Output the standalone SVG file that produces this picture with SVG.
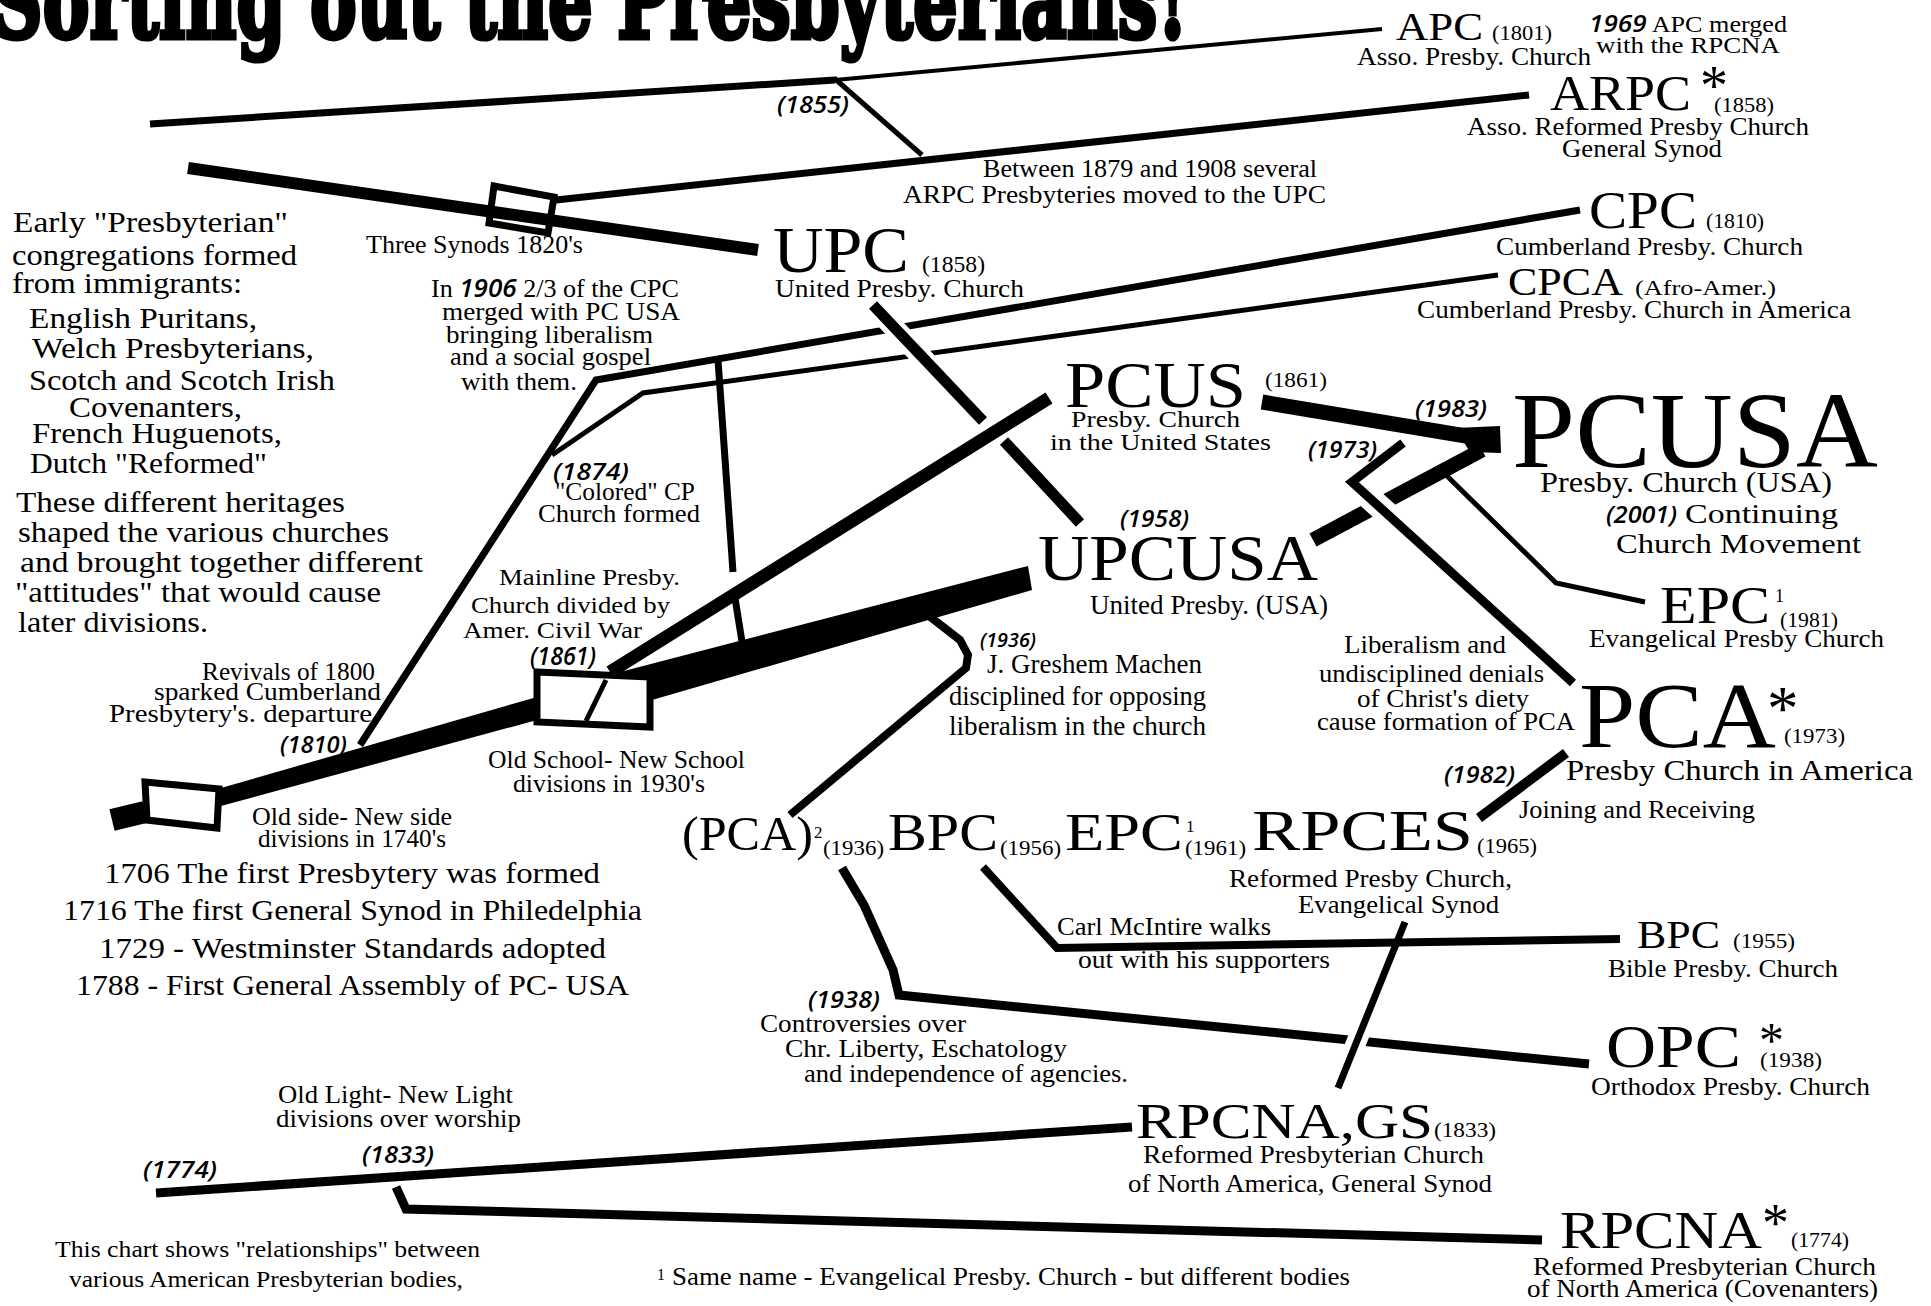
<svg xmlns="http://www.w3.org/2000/svg" width="1931" height="1306" viewBox="0 0 1931 1306">
<style>
.t{font-family:"Liberation Serif",serif;fill:#000}
.d{font-family:"Open Sans","Liberation Sans",sans-serif;font-style:italic;font-weight:600;fill:#000}
.ln{fill:none;stroke:#000;stroke-linejoin:miter;stroke-linecap:butt}
.halo{fill:none;stroke:#fff;stroke-linecap:butt}
.bx{fill:#fff;stroke:#000;stroke-width:7;stroke-linejoin:miter}
.bxo{fill:none;stroke:#000;stroke-width:7;stroke-linejoin:miter}
.ttl{font-family:"DejaVu Serif",serif;font-weight:bold;fill:#000;stroke:#000;stroke-width:5}
</style>
<rect width="1931" height="1306" fill="#fff"/>
<text class="ttl" x="-8" y="38" font-size="104" textLength="1196" lengthAdjust="spacingAndGlyphs">Sorting out the Presbyterians!</text>

<g id="connectors">
<path class="ln" stroke-width="7" d="M150,124 L835,80"/>
<path class="ln" stroke-width="4" d="M835,80 L1382,29"/>
<path class="ln" stroke-width="5" d="M834,78 L922,155"/>
<path class="ln" stroke-width="7" d="M556,200 L1529,95"/>
<path class="ln" stroke-width="12" d="M188,168 L758,250"/>
<path class="ln" stroke-width="7" d="M360,745 L596,380 L1580,210"/>
<path class="ln" stroke-width="5" d="M552,455 L643,393 L1100,330 L1498,275"/>
<path class="ln" stroke-width="7" d="M718,360 L733,572 M735,598 L743,648"/>
<path class="halo" stroke-width="21" d="M882,315 L932,368"/>
<path class="ln" stroke-width="11" d="M873,305 L983,421 M1004,441 L1080,523"/>
<path class="ln" stroke-width="13" d="M610,672 L1049,398"/>
<polygon fill="#000" points="620,672 1028,566 1032,590 652,700"/>
<path class="ln" stroke-width="15" d="M1262,402 L1490,440"/>
<polygon fill="#000" points="1455,428 1500,426 1501,453 1470,452"/>
<path class="ln" stroke-width="15" d="M1313,540 L1482,450"/>
<path class="halo" stroke-width="24" d="M1362,491 L1392,518"/>
<path class="ln" stroke-width="9" d="M1403,443 L1352,482 L1573,683"/>
<path class="ln" stroke-width="5" d="M1446,475 L1556,583 L1645,602"/>
<path class="ln" stroke-width="8" d="M924,612 L960,640 L968,655 L966,668 L790,815"/>
<path class="ln" stroke-width="8" d="M983,867 L1057,948 L1620,939"/>
<path class="ln" stroke-width="9" d="M842,868 L864,905 L893,970 L899,995 L1589,1064"/>
<path class="halo" stroke-width="20" d="M1362,1028 L1350,1058"/>
<path class="ln" stroke-width="7" d="M1405,922 L1338,1088"/>
<path class="ln" stroke-width="10" d="M1479,818 L1566,753"/>
<path class="ln" stroke-width="9" d="M156,1193 L1132,1127"/>
<path class="ln" stroke-width="9" d="M396,1187 L406,1209 L1542,1240"/>
<path class="ln" stroke-width="22" d="M112,820 L145,812"/>
<polygon fill="#000" points="221,788 537,697 537,720 221,806"/>
</g>

<g id="box-three-synods"><polygon class="bxo" points="494,186 554,197 548,233 489,223"/></g>
<g id="box-old-side"><polygon class="bx" points="145,782 219,789 217,828 147,820"/></g>
<g id="box-1861"><polygon class="bx" points="537,672 650,677 650,727 537,722"/>
<path class="ln" stroke-width="5" d="M606,680 L586,721"/></g>

<g id="intro">
<text class="t" x="13" y="232" font-size="30" textLength="275" lengthAdjust="spacingAndGlyphs">Early "Presbyterian"</text>
<text class="t" x="12" y="265" font-size="30" textLength="285" lengthAdjust="spacingAndGlyphs">congregations formed</text>
<text class="t" x="12" y="293" font-size="30" textLength="230" lengthAdjust="spacingAndGlyphs">from immigrants:</text>
<text class="t" x="29" y="328" font-size="30" textLength="228" lengthAdjust="spacingAndGlyphs">English Puritans,</text>
<text class="t" x="32" y="358" font-size="30" textLength="282" lengthAdjust="spacingAndGlyphs">Welch Presbyterians,</text>
<text class="t" x="29" y="390" font-size="30" textLength="306" lengthAdjust="spacingAndGlyphs">Scotch and Scotch Irish</text>
<text class="t" x="69" y="417" font-size="30" textLength="173" lengthAdjust="spacingAndGlyphs">Covenanters,</text>
<text class="t" x="32" y="443" font-size="30" textLength="250" lengthAdjust="spacingAndGlyphs">French Huguenots,</text>
<text class="t" x="30" y="473" font-size="30" textLength="237" lengthAdjust="spacingAndGlyphs">Dutch "Reformed"</text>
<text class="t" x="16" y="512" font-size="30" textLength="329" lengthAdjust="spacingAndGlyphs">These different heritages</text>
<text class="t" x="18" y="542" font-size="30" textLength="371" lengthAdjust="spacingAndGlyphs">shaped the various churches</text>
<text class="t" x="20" y="572" font-size="30" textLength="403" lengthAdjust="spacingAndGlyphs">and brought together different</text>
<text class="t" x="15" y="602" font-size="30" textLength="366" lengthAdjust="spacingAndGlyphs">"attitudes" that would cause</text>
<text class="t" x="18" y="632" font-size="30" textLength="190" lengthAdjust="spacingAndGlyphs">later divisions.</text>
</g>

<g id="early-dates">
<text class="t" x="104" y="883" font-size="30" textLength="496" lengthAdjust="spacingAndGlyphs">1706 The first Presbytery was formed</text>
<text class="t" x="63" y="920" font-size="30" textLength="579" lengthAdjust="spacingAndGlyphs">1716 The first General Synod in Philedelphia</text>
<text class="t" x="99" y="958" font-size="30" textLength="507" lengthAdjust="spacingAndGlyphs">1729 - Westminster Standards adopted</text>
<text class="t" x="76" y="995" font-size="30" textLength="553" lengthAdjust="spacingAndGlyphs">1788 - First General Assembly of PC- USA</text>
</g>

<g id="note-three-synods"><text class="t" x="366" y="253" font-size="26" textLength="217" lengthAdjust="spacingAndGlyphs">Three Synods 1820's</text></g>
<g id="note-1906">
<text class="t" x="431" y="297" font-size="25" textLength="248" lengthAdjust="spacingAndGlyphs">In <tspan class="d">1906</tspan> 2/3 of the CPC</text>
<text class="t" x="442" y="320" font-size="25" textLength="238" lengthAdjust="spacingAndGlyphs">merged with PC USA</text>
<text class="t" x="446" y="343" font-size="25" textLength="207" lengthAdjust="spacingAndGlyphs">bringing liberalism</text>
<text class="t" x="450" y="365" font-size="25" textLength="201" lengthAdjust="spacingAndGlyphs">and a social gospel</text>
<text class="t" x="461" y="390" font-size="25" textLength="116" lengthAdjust="spacingAndGlyphs">with them.</text>
</g>
<g id="note-1855"><text class="d" x="777" y="113" font-size="24" textLength="72" lengthAdjust="spacingAndGlyphs">(1855)</text></g>
<g id="note-arpc">
<text class="t" x="983" y="177" font-size="26" textLength="334" lengthAdjust="spacingAndGlyphs">Between 1879 and 1908 several</text>
<text class="t" x="903" y="203" font-size="26" textLength="423" lengthAdjust="spacingAndGlyphs">ARPC Presbyteries moved to the UPC</text>
</g>
<g id="node-upc">
<text class="t" x="773" y="272" font-size="66" textLength="136" lengthAdjust="spacingAndGlyphs">UPC</text>
<text class="t" x="922" y="272" font-size="24" textLength="63" lengthAdjust="spacingAndGlyphs">(1858)</text>
<text class="t" x="775" y="297" font-size="26" textLength="249" lengthAdjust="spacingAndGlyphs">United Presby. Church</text>
</g>
<g id="node-apc">
<text class="t" x="1396" y="40" font-size="40" textLength="87" lengthAdjust="spacingAndGlyphs">APC</text>
<text class="t" x="1492" y="40" font-size="22" textLength="60" lengthAdjust="spacingAndGlyphs">(1801)</text>
<text class="t" x="1357" y="65" font-size="25" textLength="234" lengthAdjust="spacingAndGlyphs">Asso. Presby. Church</text>
<text class="t" x="1589" y="32" font-size="24" textLength="198" lengthAdjust="spacingAndGlyphs"><tspan class="d">1969</tspan> APC merged</text>
<text class="t" x="1596" y="53" font-size="24" textLength="184" lengthAdjust="spacingAndGlyphs">with the RPCNA</text>
</g>
<g id="node-arpc">
<text class="t" x="1550" y="110" font-size="50" textLength="141" lengthAdjust="spacingAndGlyphs">ARPC</text>
<text class="t" x="1700" y="105" font-size="56">*</text>
<text class="t" x="1714" y="112" font-size="22" textLength="60" lengthAdjust="spacingAndGlyphs">(1858)</text>
<text class="t" x="1467" y="135" font-size="26" textLength="342" lengthAdjust="spacingAndGlyphs">Asso. Reformed Presby Church</text>
<text class="t" x="1562" y="157" font-size="26" textLength="160" lengthAdjust="spacingAndGlyphs">General Synod</text>
</g>
<g id="node-cpc">
<text class="t" x="1589" y="228" font-size="53" textLength="108" lengthAdjust="spacingAndGlyphs">CPC</text>
<text class="t" x="1706" y="228" font-size="22" textLength="58" lengthAdjust="spacingAndGlyphs">(1810)</text>
<text class="t" x="1496" y="255" font-size="26" textLength="307" lengthAdjust="spacingAndGlyphs">Cumberland Presby. Church</text>
</g>
<g id="node-cpca">
<text class="t" x="1508" y="295" font-size="41" textLength="115" lengthAdjust="spacingAndGlyphs">CPCA</text>
<text class="t" x="1635" y="295" font-size="22" textLength="141" lengthAdjust="spacingAndGlyphs">(Afro-Amer.)</text>
<text class="t" x="1417" y="318" font-size="26" textLength="434" lengthAdjust="spacingAndGlyphs">Cumberland Presby. Church in America</text>
</g>
<g id="node-pcus">
<text class="t" x="1065" y="407" font-size="66" textLength="181" lengthAdjust="spacingAndGlyphs">PCUS</text>
<text class="t" x="1265" y="387" font-size="22" textLength="62" lengthAdjust="spacingAndGlyphs">(1861)</text>
<text class="t" x="1071" y="427" font-size="24" textLength="169" lengthAdjust="spacingAndGlyphs">Presby. Church</text>
<text class="t" x="1050" y="450" font-size="24" textLength="221" lengthAdjust="spacingAndGlyphs">in the United States</text>
</g>
<g id="dates-pcusa">
<text class="d" x="1415" y="417" font-size="24" textLength="72" lengthAdjust="spacingAndGlyphs">(1983)</text>
<text class="d" x="1308" y="458" font-size="24" textLength="69" lengthAdjust="spacingAndGlyphs">(1973)</text>
</g>
<g id="node-pcusa">
<text class="t" x="1512" y="467" font-size="108" textLength="366" lengthAdjust="spacingAndGlyphs">PCUSA</text>
<text class="t" x="1540" y="492" font-size="30" textLength="292" lengthAdjust="spacingAndGlyphs">Presby. Church (USA)</text>
<text class="d" x="1606" y="523" font-size="24" textLength="71" lengthAdjust="spacingAndGlyphs">(2001)</text>
<text class="t" x="1685" y="523" font-size="28" textLength="153" lengthAdjust="spacingAndGlyphs">Continuing</text>
<text class="t" x="1616" y="553" font-size="28" textLength="245" lengthAdjust="spacingAndGlyphs">Church Movement</text>
</g>
<g id="node-upcusa">
<text class="d" x="1120" y="527" font-size="24" textLength="69" lengthAdjust="spacingAndGlyphs">(1958)</text>
<text class="t" x="1038" y="580" font-size="66" textLength="280" lengthAdjust="spacingAndGlyphs">UPCUSA</text>
<text class="t" x="1090" y="614" font-size="28" textLength="238" lengthAdjust="spacingAndGlyphs">United Presby. (USA)</text>
</g>
<g id="node-epc-1981">
<text class="t" x="1660" y="623" font-size="52" textLength="110" lengthAdjust="spacingAndGlyphs">EPC</text>
<text class="t" x="1775" y="602" font-size="18">1</text>
<text class="t" x="1780" y="627" font-size="22" textLength="58" lengthAdjust="spacingAndGlyphs">(1981)</text>
<text class="t" x="1589" y="647" font-size="26" textLength="295" lengthAdjust="spacingAndGlyphs">Evangelical Presby Church</text>
</g>
<g id="note-pca">
<text class="t" x="1344" y="653" font-size="25" textLength="162" lengthAdjust="spacingAndGlyphs">Liberalism and</text>
<text class="t" x="1319" y="682" font-size="25" textLength="225" lengthAdjust="spacingAndGlyphs">undisciplined denials</text>
<text class="t" x="1357" y="707" font-size="25" textLength="172" lengthAdjust="spacingAndGlyphs">of Christ's diety</text>
<text class="t" x="1317" y="730" font-size="25" textLength="258" lengthAdjust="spacingAndGlyphs">cause formation of PCA</text>
</g>
<g id="node-pca">
<text class="t" x="1579" y="747" font-size="94" textLength="197" lengthAdjust="spacingAndGlyphs">PCA</text>
<text class="t" x="1767" y="730" font-size="63">*</text>
<text class="t" x="1784" y="743" font-size="22" textLength="61" lengthAdjust="spacingAndGlyphs">(1973)</text>
<text class="t" x="1566" y="780" font-size="30" textLength="347" lengthAdjust="spacingAndGlyphs">Presby Church in America</text>
</g>
<g id="note-1982">
<text class="d" x="1444" y="783" font-size="24" textLength="71" lengthAdjust="spacingAndGlyphs">(1982)</text>
<text class="t" x="1519" y="818" font-size="26" textLength="236" lengthAdjust="spacingAndGlyphs">Joining and Receiving</text>
</g>
<g id="note-machen">
<text class="d" x="980" y="647" font-size="20" textLength="56" lengthAdjust="spacingAndGlyphs">(1936)</text>
<text class="t" x="987" y="673" font-size="27" textLength="215" lengthAdjust="spacingAndGlyphs">J. Greshem Machen</text>
<text class="t" x="949" y="705" font-size="27" textLength="257" lengthAdjust="spacingAndGlyphs">disciplined for opposing</text>
<text class="t" x="949" y="735" font-size="27" textLength="257" lengthAdjust="spacingAndGlyphs">liberalism in the church</text>
</g>
<g id="note-civil-war">
<text class="t" x="499" y="585" font-size="24" textLength="181" lengthAdjust="spacingAndGlyphs">Mainline Presby.</text>
<text class="t" x="471" y="613" font-size="24" textLength="199" lengthAdjust="spacingAndGlyphs">Church divided by</text>
<text class="t" x="463" y="638" font-size="24" textLength="179" lengthAdjust="spacingAndGlyphs">Amer. Civil War</text>
<text class="d" x="530" y="665" font-size="26" font-weight="800" textLength="66" lengthAdjust="spacingAndGlyphs">(1861)</text>
</g>
<g id="note-1874">
<text class="d" x="553" y="480" font-size="24" textLength="76" lengthAdjust="spacingAndGlyphs">(1874)</text>
<text class="t" x="555" y="500" font-size="25" textLength="140" lengthAdjust="spacingAndGlyphs">"Colored" CP</text>
<text class="t" x="538" y="522" font-size="25" textLength="162" lengthAdjust="spacingAndGlyphs">Church formed</text>
</g>
<g id="note-1810">
<text class="t" x="202" y="680" font-size="25" textLength="173" lengthAdjust="spacingAndGlyphs">Revivals of 1800</text>
<text class="t" x="154" y="700" font-size="25" textLength="227" lengthAdjust="spacingAndGlyphs">sparked Cumberland</text>
<text class="t" x="109" y="722" font-size="25" textLength="263" lengthAdjust="spacingAndGlyphs">Presbytery's. departure</text>
<text class="d" x="280" y="753" font-size="24" textLength="67" lengthAdjust="spacingAndGlyphs">(1810)</text>
</g>
<g id="note-old-school">
<text class="t" x="488" y="768" font-size="26" textLength="257" lengthAdjust="spacingAndGlyphs">Old School- New School</text>
<text class="t" x="513" y="792" font-size="26" textLength="192" lengthAdjust="spacingAndGlyphs">divisions in 1930's</text>
</g>
<g id="note-old-side">
<text class="t" x="252" y="825" font-size="25" textLength="200" lengthAdjust="spacingAndGlyphs">Old side- New side</text>
<text class="t" x="258" y="847" font-size="25" textLength="188" lengthAdjust="spacingAndGlyphs">divisions in 1740's</text>
</g>
<g id="node-row">
<text class="t" x="682" y="850" font-size="48" textLength="131" lengthAdjust="spacingAndGlyphs">(PCA)</text>
<text class="t" x="814" y="838" font-size="17">2</text>
<text class="t" x="823" y="855" font-size="22" textLength="61" lengthAdjust="spacingAndGlyphs">(1936)</text>
<text class="t" x="888" y="850" font-size="53" textLength="110" lengthAdjust="spacingAndGlyphs">BPC</text>
<text class="t" x="1000" y="855" font-size="22" textLength="61" lengthAdjust="spacingAndGlyphs">(1956)</text>
<text class="t" x="1065" y="850" font-size="53" textLength="118" lengthAdjust="spacingAndGlyphs">EPC</text>
<text class="t" x="1186" y="832" font-size="17">1</text>
<text class="t" x="1185" y="855" font-size="22" textLength="61" lengthAdjust="spacingAndGlyphs">(1961)</text>
</g>
<g id="node-rpces">
<text class="t" x="1252" y="850" font-size="56" textLength="221" lengthAdjust="spacingAndGlyphs">RPCES</text>
<text class="t" x="1477" y="853" font-size="22" textLength="60" lengthAdjust="spacingAndGlyphs">(1965)</text>
<text class="t" x="1229" y="887" font-size="26" textLength="283" lengthAdjust="spacingAndGlyphs">Reformed Presby Church,</text>
<text class="t" x="1298" y="913" font-size="26" textLength="201" lengthAdjust="spacingAndGlyphs">Evangelical Synod</text>
</g>
<g id="note-mcintire">
<text class="t" x="1057" y="935" font-size="26" textLength="214" lengthAdjust="spacingAndGlyphs">Carl McIntire walks</text>
<text class="t" x="1078" y="968" font-size="26" textLength="252" lengthAdjust="spacingAndGlyphs">out with his supporters</text>
</g>
<g id="node-bpc-1955">
<text class="t" x="1637" y="948" font-size="40" textLength="83" lengthAdjust="spacingAndGlyphs">BPC</text>
<text class="t" x="1733" y="948" font-size="22" textLength="62" lengthAdjust="spacingAndGlyphs">(1955)</text>
<text class="t" x="1608" y="977" font-size="26" textLength="230" lengthAdjust="spacingAndGlyphs">Bible Presby. Church</text>
</g>
<g id="note-1938">
<text class="d" x="808" y="1008" font-size="24" textLength="72" lengthAdjust="spacingAndGlyphs">(1938)</text>
<text class="t" x="760" y="1032" font-size="25" textLength="206" lengthAdjust="spacingAndGlyphs">Controversies over</text>
<text class="t" x="785" y="1057" font-size="25" textLength="282" lengthAdjust="spacingAndGlyphs">Chr. Liberty, Eschatology</text>
<text class="t" x="804" y="1082" font-size="25" textLength="324" lengthAdjust="spacingAndGlyphs">and independence of agencies.</text>
</g>
<g id="node-opc">
<text class="t" x="1606" y="1067" font-size="62" textLength="135" lengthAdjust="spacingAndGlyphs">OPC</text>
<text class="t" x="1759" y="1057" font-size="50">*</text>
<text class="t" x="1760" y="1067" font-size="22" textLength="62" lengthAdjust="spacingAndGlyphs">(1938)</text>
<text class="t" x="1591" y="1095" font-size="26" textLength="279" lengthAdjust="spacingAndGlyphs">Orthodox Presby. Church</text>
</g>
<g id="node-rpcna-gs">
<text class="t" x="1136" y="1138" font-size="50" textLength="297" lengthAdjust="spacingAndGlyphs">RPCNA,GS</text>
<text class="t" x="1434" y="1137" font-size="22" textLength="62" lengthAdjust="spacingAndGlyphs">(1833)</text>
<text class="t" x="1143" y="1163" font-size="26" textLength="341" lengthAdjust="spacingAndGlyphs">Reformed Presbyterian Church</text>
<text class="t" x="1128" y="1192" font-size="26" textLength="364" lengthAdjust="spacingAndGlyphs">of North America, General Synod</text>
</g>
<g id="note-old-light">
<text class="t" x="278" y="1103" font-size="25" textLength="235" lengthAdjust="spacingAndGlyphs">Old Light- New Light</text>
<text class="t" x="276" y="1127" font-size="25" textLength="245" lengthAdjust="spacingAndGlyphs">divisions over worship</text>
<text class="d" x="362" y="1163" font-size="24" textLength="72" lengthAdjust="spacingAndGlyphs">(1833)</text>
<text class="d" x="143" y="1178" font-size="24" textLength="74" lengthAdjust="spacingAndGlyphs">(1774)</text>
</g>
<g id="node-rpcna">
<text class="t" x="1560" y="1248" font-size="53" textLength="202" lengthAdjust="spacingAndGlyphs">RPCNA</text>
<text class="t" x="1762" y="1241" font-size="54">*</text>
<text class="t" x="1791" y="1247" font-size="22" textLength="58" lengthAdjust="spacingAndGlyphs">(1774)</text>
<text class="t" x="1533" y="1275" font-size="26" textLength="343" lengthAdjust="spacingAndGlyphs">Reformed Presbyterian Church</text>
<text class="t" x="1527" y="1297" font-size="26" textLength="351" lengthAdjust="spacingAndGlyphs">of North America (Covenanters)</text>
</g>
<g id="footer">
<text class="t" x="55" y="1257" font-size="24" textLength="425" lengthAdjust="spacingAndGlyphs">This chart shows "relationships" between</text>
<text class="t" x="69" y="1287" font-size="24" textLength="394" lengthAdjust="spacingAndGlyphs">various American Presbyterian bodies,</text>
<text class="t" x="657" y="1280" font-size="16">1</text>
<text class="t" x="672" y="1285" font-size="26" textLength="678" lengthAdjust="spacingAndGlyphs">Same name - Evangelical Presby. Church - but different bodies</text>
</g>
</svg>
